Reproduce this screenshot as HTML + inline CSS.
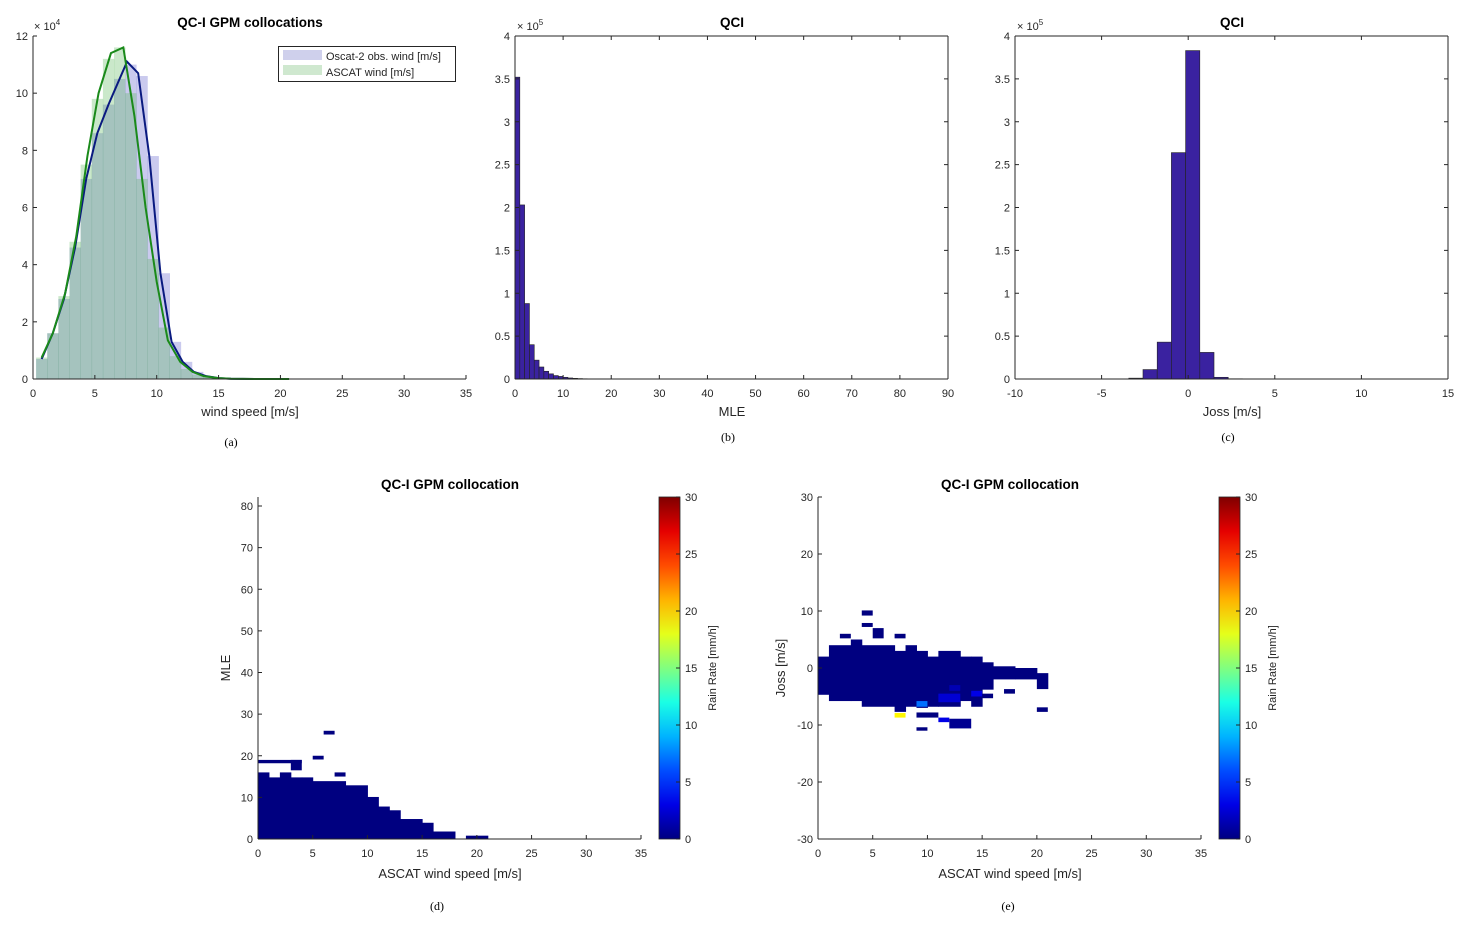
<!DOCTYPE html>
<html><head><meta charset="utf-8"><style>
html,body{margin:0;padding:0;background:#fff}
svg{display:block;font-family:"Liberation Sans",sans-serif}
.t{font-size:11px;fill:#262626}
.lab{font-size:13px;fill:#262626}
.ttl{font-size:13.5px;font-weight:bold;fill:#000}
.cap{font-family:"Liberation Serif",serif;font-size:12px;fill:#000}
</style></head><body>
<svg id="s" width="1470" height="926" viewBox="0 0 1470 926" xmlns="http://www.w3.org/2000/svg"></svg>
<script>
// ---------- Panel (a) data ----------
const aXTicks=[0,5,10,15,20,25,30,35];
const aYTicks=[0,2,4,6,8,10,12];
const histCenters=[0.7,1.6,2.5,3.4,4.3,5.2,6.1,7.0,7.9,8.8,9.7,10.6,11.5,12.4,13.3,14.2,15.1,16.0];
const oscatHist=[0.7,1.6,2.8,4.6,7.0,8.6,9.6,10.5,11.0,10.6,7.8,3.7,1.3,0.6,0.25,0.1,0.03,0.01];
const ascatHist=[0.75,1.6,2.9,4.8,7.5,9.8,11.2,11.6,10.0,7.0,4.2,1.8,0.8,0.35,0.15,0.06,0.02,0.01];
const oscatX=[0.7,1.6,2.5,3.4,4.3,5.2,6.1,7.0,7.6,8.5,9.4,10.3,11.2,12.1,13.0,14.0,15.0,16.0,18.0,20.0];
const oscatY=[0.7,1.6,2.8,4.6,7.0,8.6,9.6,10.5,11.1,10.7,7.8,3.7,1.3,0.6,0.25,0.1,0.03,0.01,0.0,0.0];
const ascatX=[0.7,1.6,2.6,3.5,4.4,5.3,6.3,7.3,8.2,9.1,10.0,10.9,11.9,12.9,13.8,15.0,16.0,18.0,20.7];
const ascatY=[0.75,1.6,3.0,5.0,7.8,10.0,11.4,11.6,9.2,6.0,3.4,1.35,0.6,0.25,0.1,0.03,0.01,0.0,0.0];
// ---------- Panel (b) data ----------
const bXTicks=[0,10,20,30,40,50,60,70,80,90];
const hYTicks=[0,0.5,1,1.5,2,2.5,3,3.5,4];
const mleBinStart=[0,1,2,3,4,5,6,7,8,9,10,11,12,13,14];
const mleCounts=[3.52,2.03,0.88,0.40,0.22,0.14,0.09,0.06,0.04,0.03,0.02,0.012,0.008,0.005,0.003];
// ---------- Panel (c) data ----------
const cXTicks=[-10,-5,0,5,10,15];
const jossBinStart=[-3.43,-2.61,-1.79,-0.97,-0.15,0.67,1.49,2.31];
const jossCounts=[0.01,0.11,0.43,2.64,3.83,0.31,0.02,0.003];
// ---------- Panel (d) data ----------
const dXTicks=[0,5,10,15,20,25,30,35];
const dYTicks=[0,10,20,30,40,50,60,70,80];
const dColX0=[0,1,2,3,4,5,8,10,11,12,13,15,16,19];
const dColX1=[1,2,3,4,5,8,10,11,12,13,15,16,18,21];
const dColTop=[16,14.8,16,14.8,14.8,13.9,12.9,10.1,7.8,6.9,4.8,3.9,1.8,0.8];
const dCellX=[0,3,5,6,7];
const dCellW=[4,1,1,1,1];
const dCellY=[18.2,16.5,19.1,25.1,15.0];
const dCellH=[0.8,2.5,0.9,0.9,1.0];
// ---------- Panel (e) data ----------
const eXTicks=[0,5,10,15,20,25,30,35];
const eYTicks=[-30,-20,-10,0,10,20,30];
const eColX0=[0,1,3,4,7,8,9,10,11,13,14,15,16,18,20];
const eColX1=[1,3,4,7,8,9,10,11,13,14,15,16,18,20,21];
const eColTop=[2,4,5,4,3,4,3,2,3,2,2,1,0.3,0,-0.9];
const eColBot=[-4.7,-5.8,-5.8,-6.8,-7.7,-6.8,-7.0,-6.8,-6.8,-5.8,-6.8,-3.8,-2,-2,-3.7];
const eCellX=[4,4,5,2,7,9,11,12,9,7,17,20,15,9,11,14,12];
const eCellY=[9.2,7.2,5.2,5.2,5.2,-8.7,-9.5,-10.6,-11,-8.7,-4.5,-7.7,-5.3,-6.8,-6,-5,-4];
const eCellW=[1,1,1,1,1,2,1,2,1,1,1,1,1,1,2,1,1];
const eCellH=[0.9,0.7,1.8,0.8,0.8,0.9,0.8,1.7,0.6,0.8,0.8,0.8,0.8,1.0,1.5,1.0,1.0];
const eCellRain=[0,0,0,0,0,0,3,0.5,0,19,0,0,0,7,2.5,3,1.5];
const cbTicks=[0,5,10,15,20,25,30];

const NS='http://www.w3.org/2000/svg';
const S=document.getElementById('s');
function el(tag,attrs,parent){const e=document.createElementNS(NS,tag);for(const k in attrs)e.setAttribute(k,attrs[k]);(parent||S).appendChild(e);return e;}
function txt(x,y,s,cls,anchor,parent,rot){const e=el('text',{x:x,y:y,class:cls,'text-anchor':anchor||'middle'},parent);if(rot)e.setAttribute('transform','rotate(-90 '+x+' '+y+')');e.textContent=s;return e;}
function lin(d0,d1,r0,r1){return v=>r0+(v-d0)*(r1-r0)/(d1-d0);}
function jet(v){v=Math.max(0,Math.min(1,v));const c=t=>Math.round(255*Math.max(0,Math.min(1,1.5-Math.abs(4*v-t))));return 'rgb('+c(3)+','+c(2)+','+c(1)+')';}

function axes(g,x0,x1,y0,y1,xs,ys,xT,yT,box,fmt){
  const A=el('g',{},g);
  
  
  const XA=el('g',{},A);
  
  
  el('line',{x1:x0,y1:y0,x2:x1,y2:y0,stroke:'#262626','stroke-width':1},XA);
  xT.forEach(v=>{const x=xs(v);el('line',{x1:x,y1:y0,x2:x,y2:y0-4,stroke:'#262626'},XA);if(box)el('line',{x1:x,y1:y1,x2:x,y2:y1+4,stroke:'#262626'},XA);const t=txt(x,y0+18,String(v),'t','middle',XA);});
  const YA=el('g',{},A);
  
  
  el('line',{x1:x0,y1:y0,x2:x0,y2:y1,stroke:'#262626','stroke-width':1},YA);
  yT.forEach(v=>{const y=ys(v);el('line',{x1:x0,y1:y,x2:x0+4,y2:y,stroke:'#262626'},YA);if(box)el('line',{x1:x1,y1:y,x2:x1-4,y2:y,stroke:'#262626'},YA);const t=txt(x0-5,y+4,fmt?fmt(v):String(v),'t','end',YA);});
  if(box){el('line',{x1:x0,y1:y1,x2:x1,y2:y1,stroke:'#262626'},A);el('line',{x1:x1,y1:y0,x2:x1,y2:y1,stroke:'#262626'},A);}
}
function expo(g,x,y,p){const t=el('text',{x:x,y:y,class:'t','text-anchor':'start'},g);t.innerHTML='× 10<tspan dy="-5" font-size="8">'+p+'</tspan>';}
function group(name){const g=el('g',{});return g;}

// ===== Panel a =====
(function(){
  const g=group('panel-a-wind-histogram');
  const xs=lin(0,35,33,466), ys=lin(0,12,379,36);
  const bw=0.9;
  histCenters.forEach((v,i)=>{const r=el('rect',{x:xs(v-bw/2),y:ys(oscatHist[i]),width:xs(bw)-xs(0)+0.3,height:ys(0)-ys(oscatHist[i]),fill:'rgb(80,80,200)','fill-opacity':0.3},g);});
  histCenters.forEach((v,i)=>{const r=el('rect',{x:xs(v-bw/2),y:ys(ascatHist[i]),width:xs(bw)-xs(0)+0.3,height:ys(0)-ys(ascatHist[i]),fill:'rgb(80,180,80)','fill-opacity':0.3},g);});
  let p1=el('polyline',{points:oscatX.map((v,i)=>xs(v)+','+ys(oscatY[i])).join(' '),fill:'none',stroke:'#0a1a80','stroke-width':2},g);
  
  let p2=el('polyline',{points:ascatX.map((v,i)=>xs(v)+','+ys(ascatY[i])).join(' '),fill:'none',stroke:'#1a8a1a','stroke-width':2},g);
  
  axes(g,33,466,379,36,xs,ys,aXTicks,aYTicks,false);
  expo(g,34,30,4);
  const tt=txt(250,27,'QC-I GPM collocations','ttl','middle',g);
  const xl=txt(250,416,'wind speed [m/s]','lab','middle',g);
  const L=el('g',{},g);
  el('rect',{x:278.5,y:46.5,width:177,height:35,fill:'#fff',stroke:'#262626'},L);
  el('rect',{x:283,y:50,width:39,height:10,fill:'#cfd0ec'},L);
  el('rect',{x:283,y:65,width:39,height:10,fill:'#cfe8cf'},L);
  const l1=txt(326,60,'Oscat-2 obs. wind [m/s]','t','start',L);
  const l2=txt(326,76,'ASCAT wind [m/s]','t','start',L);
  const c=txt(231,446,'(a)','cap','middle',g);
})();

// ===== Panels b, c =====
function histPanel(name,x0,x1,dom0,dom1,xT,starts,counts,bw,title,xlab,cx,cap){
  const g=group(name);
  const xs=lin(dom0,dom1,x0,x1), ys=lin(0,4,379,36);
  starts.forEach((v,i)=>{const r=el('rect',{x:xs(v),y:ys(counts[i]),width:xs(v+bw)-xs(v),height:ys(0)-ys(counts[i]),fill:'#3a22a0',stroke:'#222','stroke-width':0.6},g);});
  axes(g,x0,x1,379,36,xs,ys,xT,hYTicks,true);
  expo(g,x0+2,30,5);
  const tt=txt(cx,27,title,'ttl','middle',g);
  const xl=txt(cx,416,xlab,'lab','middle',g);
  const c=txt(cx-4,441,cap,'cap','middle',g);
}
histPanel('panel-b-mle-histogram',515,948,0,90,bXTicks,mleBinStart,mleCounts,1,'QCI','MLE',732,'(b)');
histPanel('panel-c-joss-histogram',1015,1448,-10,15,cXTicks,jossBinStart,jossCounts,0.82,'QCI','Joss [m/s]',1232,'(c)');

// ===== Panels d, e =====
function colorbar(g,x){
  const id='jet'+x;
  const d=el('defs',{},g);const lg=el('linearGradient',{id:id,x1:0,y1:1,x2:0,y2:0},d);
  for(let i=0;i<=10;i++)el('stop',{offset:i/10,'stop-color':jet(i/10)},lg);
  const cb=el('g',{},g);
  el('rect',{x:x,y:497,width:21,height:342,fill:'url(#'+id+')',stroke:'#262626','stroke-width':0.8},cb);
  const ys=lin(0,30,839,497);
  cbTicks.forEach(v=>{el('line',{x1:x+21,y1:ys(v),x2:x+17,y2:ys(v),stroke:'#262626'},cb);const t=txt(x+26,ys(v)+4,String(v),'t','start',cb);});
  const l=txt(x+57,668,'Rain Rate [mm/h]','t','middle',cb,true);
}
(function(){
  const g=group('panel-d-mle-heatmap');
  const xs=lin(0,35,258,641), ys=lin(0,80,839,506);
  dColX0.forEach((v,i)=>{const r=el('rect',{x:xs(v),y:ys(dColTop[i]),width:xs(dColX1[i])-xs(v)+0.5,height:ys(0)-ys(dColTop[i]),fill:jet(0)},g);});
  dCellX.forEach((v,i)=>{const r=el('rect',{x:xs(v),y:ys(dCellY[i]+dCellH[i]),width:xs(v+dCellW[i])-xs(v),height:ys(0)-ys(dCellH[i]),fill:jet(0)},g);});
  axes(g,258,641,839,497,xs,ys,dXTicks,dYTicks,false);
  const tt=txt(450,489,'QC-I GPM collocation','ttl','middle',g);
  const xl=txt(450,878,'ASCAT wind speed [m/s]','lab','middle',g);
  const yl=txt(230,668,'MLE','lab','middle',g,true);
  colorbar(g,659);
  const c=txt(437,910,'(d)','cap','middle',g);
})();
(function(){
  const g=group('panel-e-joss-heatmap');
  const xs=lin(0,35,818,1201), ys=lin(-30,30,839,497);
  eColX0.forEach((v,i)=>{const r=el('rect',{x:xs(v),y:ys(eColTop[i]),width:xs(eColX1[i])-xs(v)+0.5,height:ys(eColBot[i])-ys(eColTop[i]),fill:jet(0)},g);});
  eCellX.forEach((v,i)=>{const r=el('rect',{x:xs(v),y:ys(eCellY[i]+eCellH[i]),width:xs(v+eCellW[i])-xs(v),height:ys(0)-ys(eCellH[i]),fill:jet(eCellRain[i]/30)},g);});
  axes(g,818,1201,839,497,xs,ys,eXTicks,eYTicks,false);
  const tt=txt(1010,489,'QC-I GPM collocation','ttl','middle',g);
  const xl=txt(1010,878,'ASCAT wind speed [m/s]','lab','middle',g);
  const yl=txt(785,668,'Joss [m/s]','lab','middle',g,true);
  colorbar(g,1219);
  const c=txt(1008,910,'(e)','cap','middle',g);
})();
</script>
</body></html>
